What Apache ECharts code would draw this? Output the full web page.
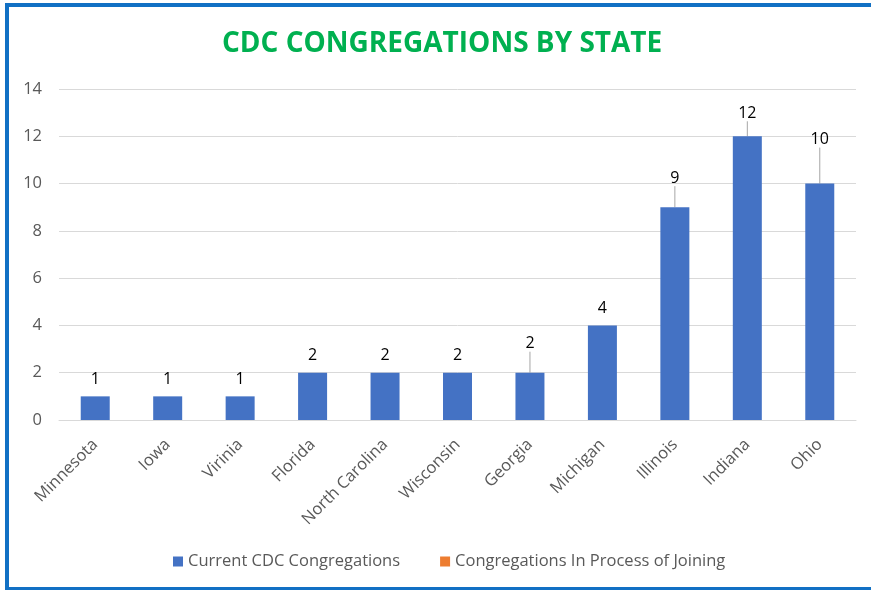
<!DOCTYPE html>
<html><head><meta charset="utf-8">
<script src="https://cdn.jsdelivr.net/npm/echarts@6/dist/echarts.min.js"></script>
<style>
html,body{margin:0;padding:0;background:#fff;}
#frame{position:absolute;left:5px;top:3px;width:900px;height:580px;border:4px solid #1170C4;box-sizing:content-box;}
#c{position:absolute;left:0;top:0;width:871px;height:590px;}
</style></head>
<body>
<div id="frame"></div>
<div id="c"></div>
<script>
const categories = ['Minnesota','Iowa','Virinia','Florida','North Carolina','Wisconsin','Georgia','Michigan','Illinois','Indiana','Ohio'];
const currentValues = [1,1,1,2,2,2,2,4,9,12,10];
const joiningValues = [];
const seriesNames = ['Current CDC Congregations','Congregations In Process of Joining'];
const yTicks = {min:0, max:14, interval:2};
const labelShift = {6:-12, 8:-12, 9:-6, 10:-27};

const chart = echarts.init(document.getElementById('c'), null, {renderer:'canvas'});
const font = 'Open Sans, Liberation Sans, sans-serif';
const currentData = currentValues.map((v,i)=>({value:v, labelLine:{show: labelShift[i] !== undefined}}));
chart.setOption({
  animation:false,
  title:{text:'CDC CONGREGATIONS BY STATE', left:217, top:25,
    textStyle:{color:'#00B050', fontSize:28, fontWeight:'bold', fontFamily:font}},
  legend:{bottom:15, left:168, itemWidth:10, itemHeight:10, itemGap:40, icon:'rect',
    textStyle:{color:'#595959', fontSize:16.5, fontFamily:font}, data:seriesNames},
  grid:{left:59, right:15, top:89, bottom:170},
  xAxis:{type:'category', data:categories,
    axisLine:{lineStyle:{color:'#d9d9d9'}}, axisTick:{show:false},
    axisLabel:{rotate:45, color:'#595959', fontSize:16.5, fontFamily:font, margin:22, interval:0}},
  yAxis:{type:'value', min:yTicks.min, max:yTicks.max, interval:yTicks.interval,
    axisLine:{show:false}, axisTick:{show:false},
    splitLine:{lineStyle:{color:'#d9d9d9'}},
    axisLabel:{color:'#595959', fontSize:16.5, fontFamily:font, margin:17}},
  series:[
    {name:seriesNames[0], type:'bar', data:currentData, barWidth:29, barGap:'-100%',
     itemStyle:{color:'#4472C4'},
     label:{show:true, position:'top', distance:9, color:'#000', fontSize:16, fontFamily:font},
     labelLine:{show:false, lineStyle:{color:'#a6a6a6', width:1}},
     labelLayout:function(p){ const d = labelShift[p.dataIndex]; return d ? {dy:d} : {}; }},
    {name:seriesNames[1], type:'bar', data:joiningValues, barWidth:29, barGap:'-100%',
     itemStyle:{color:'#ED7D31'}}
  ]
});
</script>
</body></html>
